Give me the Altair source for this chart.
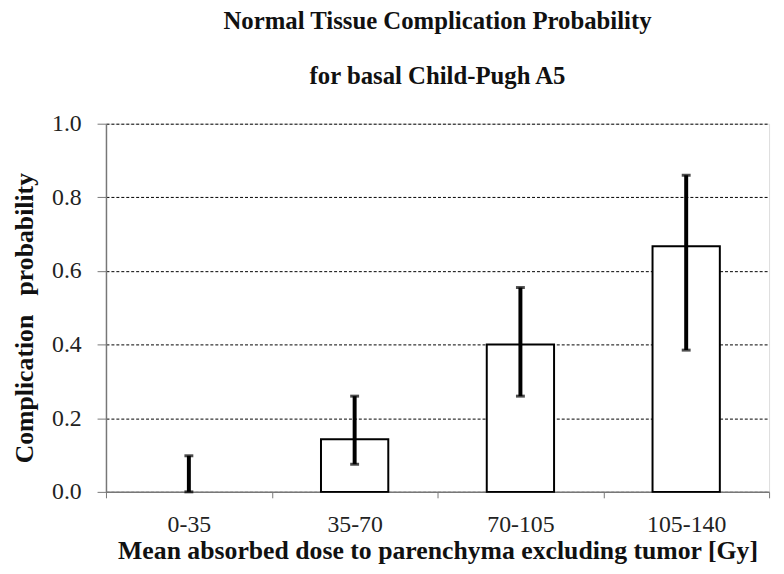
import altair as alt
import pandas as pd

categories = ["0-35", "35-70", "70-105", "105-140"]
probability = [0.0, 0.143, 0.40, 0.667]
err_low = [0.0, 0.075, 0.26, 0.385]
err_high = [0.098, 0.26, 0.555, 0.86]

df = pd.DataFrame({
    "dose": categories,
    "p": probability,
    "lo": err_low,
    "hi": err_high,
})

FONT = "Liberation Serif"

x_enc = alt.X(
    "dose:N",
    sort=categories,
    scale=alt.Scale(paddingInner=0, paddingOuter=0),
    axis=alt.Axis(
        title="Mean absorbed dose to parenchyma excluding tumor [Gy]",
        titleFont=FONT, titleFontSize=26, titleFontWeight="bold", titleColor="#111111",
        titlePadding=1,
        labelFont=FONT, labelFontSize=24, labelColor="#222222", labelAngle=0,
        labelPadding=15,
        tickBand="extent", tickSize=6, tickColor="#777777",
        domainColor="#777777", domainWidth=1.5, grid=False,
    ),
)

y_scale = alt.Scale(domain=[0, 1], nice=False)
y_axis = alt.Axis(
    title="Complication\u00a0\u00a0\u00a0probability",
    titleFont=FONT, titleFontSize=26, titleFontWeight="bold", titleColor="#111111",
    titlePadding=14, titleY=196,
    labelFont=FONT, labelFontSize=24, labelColor="#222222", format=".1f",
    labelPadding=16,
    values=[0, 0.2, 0.4, 0.6, 0.8, 1.0],
    tickSize=9, tickColor="#777777",
    domainColor="#777777", domainWidth=1.5,
    grid=True, gridColor="#000000", gridDash=[3, 2], gridWidth=1,
)

bars = alt.Chart(df).mark_bar(
    size=68, fill="white", stroke="black", strokeWidth=2
).encode(
    x=x_enc,
    y=alt.Y("p:Q", scale=y_scale, axis=y_axis),
    strokeOpacity=alt.condition("datum.p > 0", alt.value(1), alt.value(0)),
)

rules = alt.Chart(df).mark_rule(color="black", strokeWidth=4).encode(
    x=alt.X("dose:N", sort=categories),
    y="lo:Q",
    y2="hi:Q",
)

caps_hi = alt.Chart(df).mark_tick(color="black", thickness=3, size=9).encode(
    x=alt.X("dose:N", sort=categories),
    y="hi:Q",
)
caps_lo = alt.Chart(df).mark_tick(color="black", thickness=3, size=9).encode(
    x=alt.X("dose:N", sort=categories),
    y="lo:Q",
)

chart = alt.layer(bars, rules, caps_hi, caps_lo).properties(
    width=670,
    height=372,
    autosize=alt.AutoSizeParams(type="none"),
    padding={"left": 99, "top": 114, "right": 7, "bottom": 72},
    title=alt.Title(
        ["Normal Tissue Complication Probability", "for basal Child-Pugh A5"],
        font=FONT, fontSize=25, fontWeight="bold", color="#111111",
        anchor="middle", lineHeight=56, offset=23,
    ),
).configure_view(stroke=None).configure(background="white", font=FONT)

chart.save("out.html", embed_options={"renderer": "svg", "actions": False})
